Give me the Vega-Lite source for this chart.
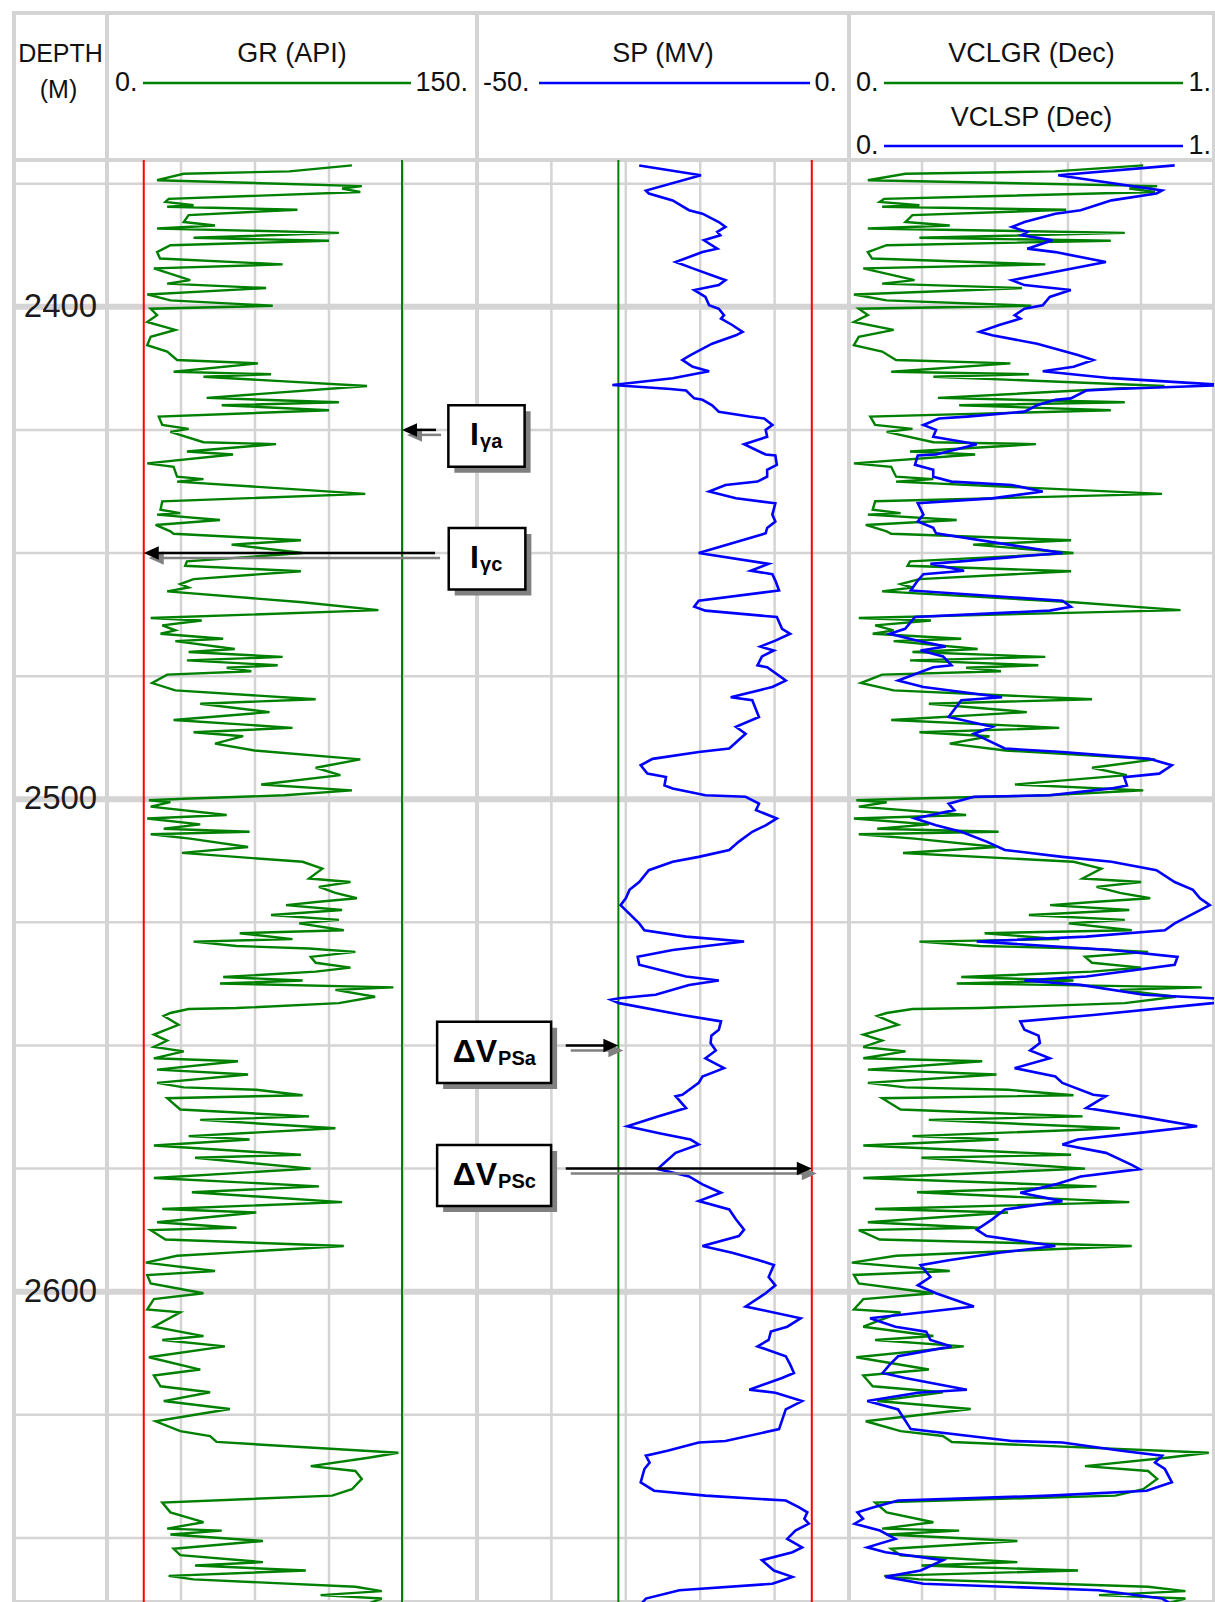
{
  "$schema": "https://vega.github.io/schema/vega-lite/v6.json",
  "background": "white",
  "padding": {"left": 9, "top": 11, "right": 2, "bottom": 0},
  "config": {
    "view": {"stroke": "#d4d4d4", "strokeWidth": 4},
    "concat": {"spacing": 0}
  },
  "datasets": {
    "depth_grid": [
      {"depth": 2375}, {"depth": 2400}, {"depth": 2425}, {"depth": 2450}, {"depth": 2475}, {"depth": 2500},
      {"depth": 2525}, {"depth": 2550}, {"depth": 2575}, {"depth": 2600}, {"depth": 2625}, {"depth": 2650}
    ],
    "track_grid": [
      {"gr": 30, "sp": -40, "vcl": 0.2},
      {"gr": 60, "sp": -30, "vcl": 0.4},
      {"gr": 90, "sp": -20, "vcl": 0.6},
      {"gr": 120, "sp": -10, "vcl": 0.8}
    ],
    "gr_log": [
      {"depth": 2371.3, "gr": 99.3}, {"depth": 2372.5, "gr": 73.9}, {"depth": 2373.0, "gr": 31.1}, {"depth": 2374.3, "gr": 20.3},
      {"depth": 2375.5, "gr": 103.3}, {"depth": 2376.0, "gr": 95.3}, {"depth": 2376.7, "gr": 102.7}, {"depth": 2378.1, "gr": 25.0},
      {"depth": 2378.7, "gr": 23.7}, {"depth": 2379.4, "gr": 35.1}, {"depth": 2379.7, "gr": 24.4}, {"depth": 2380.3, "gr": 77.2},
      {"depth": 2381.4, "gr": 33.1}, {"depth": 2382.8, "gr": 31.1}, {"depth": 2383.5, "gr": 43.8}, {"depth": 2384.1, "gr": 20.3},
      {"depth": 2385.0, "gr": 94.0}, {"depth": 2386.0, "gr": 35.1}, {"depth": 2386.6, "gr": 90.0}, {"depth": 2387.5, "gr": 25.7},
      {"depth": 2388.9, "gr": 20.3}, {"depth": 2390.2, "gr": 21.5}, {"depth": 2391.4, "gr": 71.2}, {"depth": 2392.2, "gr": 19.0},
      {"depth": 2394.6, "gr": 33.7}, {"depth": 2395.3, "gr": 24.4}, {"depth": 2396.2, "gr": 64.5}, {"depth": 2397.5, "gr": 16.3},
      {"depth": 2398.7, "gr": 25.7}, {"depth": 2399.8, "gr": 67.2}, {"depth": 2400.4, "gr": 17.7}, {"depth": 2401.7, "gr": 20.3},
      {"depth": 2403.1, "gr": 16.3}, {"depth": 2404.7, "gr": 27.7}, {"depth": 2406.1, "gr": 17.7}, {"depth": 2407.8, "gr": 16.3},
      {"depth": 2409.1, "gr": 24.4}, {"depth": 2410.8, "gr": 28.4}, {"depth": 2411.5, "gr": 61.2}, {"depth": 2413.2, "gr": 27.0},
      {"depth": 2413.7, "gr": 66.5}, {"depth": 2414.2, "gr": 39.1}, {"depth": 2416.1, "gr": 105.4}, {"depth": 2418.5, "gr": 40.4},
      {"depth": 2419.4, "gr": 94.0}, {"depth": 2420.0, "gr": 46.5}, {"depth": 2421.0, "gr": 90.0}, {"depth": 2422.3, "gr": 21.0},
      {"depth": 2424.0, "gr": 22.4}, {"depth": 2424.8, "gr": 33.1}, {"depth": 2425.4, "gr": 25.7}, {"depth": 2427.5, "gr": 39.1},
      {"depth": 2427.9, "gr": 68.5}, {"depth": 2429.4, "gr": 32.4}, {"depth": 2430.0, "gr": 51.1}, {"depth": 2431.8, "gr": 16.3},
      {"depth": 2432.5, "gr": 27.0}, {"depth": 2434.5, "gr": 28.4}, {"depth": 2435.0, "gr": 39.1}, {"depth": 2435.5, "gr": 28.4},
      {"depth": 2438.0, "gr": 104.7}, {"depth": 2439.5, "gr": 22.4}, {"depth": 2441.2, "gr": 21.7}, {"depth": 2441.9, "gr": 29.7},
      {"depth": 2442.2, "gr": 20.3}, {"depth": 2443.3, "gr": 45.8}, {"depth": 2444.3, "gr": 19.7}, {"depth": 2445.6, "gr": 25.7},
      {"depth": 2446.1, "gr": 27.0}, {"depth": 2447.4, "gr": 78.6}, {"depth": 2448.3, "gr": 50.5}, {"depth": 2450.0, "gr": 79.3},
      {"depth": 2451.7, "gr": 32.4}, {"depth": 2452.6, "gr": 31.7}, {"depth": 2453.7, "gr": 78.6}, {"depth": 2455.3, "gr": 35.1},
      {"depth": 2456.3, "gr": 29.7}, {"depth": 2457.0, "gr": 33.1}, {"depth": 2457.8, "gr": 24.4}, {"depth": 2460.0, "gr": 79.3},
      {"depth": 2461.6, "gr": 110.0}, {"depth": 2463.2, "gr": 17.7}, {"depth": 2463.7, "gr": 38.4}, {"depth": 2464.7, "gr": 22.4},
      {"depth": 2465.7, "gr": 27.7}, {"depth": 2466.4, "gr": 21.7}, {"depth": 2467.4, "gr": 47.1}, {"depth": 2467.9, "gr": 27.7},
      {"depth": 2469.5, "gr": 51.8}, {"depth": 2470.1, "gr": 33.1}, {"depth": 2471.1, "gr": 71.2}, {"depth": 2471.8, "gr": 32.4},
      {"depth": 2472.8, "gr": 69.2}, {"depth": 2473.3, "gr": 48.5}, {"depth": 2474.0, "gr": 58.5}, {"depth": 2474.7, "gr": 24.4},
      {"depth": 2476.4, "gr": 18.3}, {"depth": 2477.9, "gr": 27.7}, {"depth": 2479.7, "gr": 84.6}, {"depth": 2480.6, "gr": 37.8},
      {"depth": 2482.3, "gr": 65.9}, {"depth": 2483.9, "gr": 27.0}, {"depth": 2485.5, "gr": 75.2}, {"depth": 2486.4, "gr": 35.1},
      {"depth": 2487.2, "gr": 55.2}, {"depth": 2488.7, "gr": 43.8}, {"depth": 2490.1, "gr": 59.8}, {"depth": 2491.9, "gr": 102.7},
      {"depth": 2493.6, "gr": 84.6}, {"depth": 2495.1, "gr": 94.6}, {"depth": 2497.0, "gr": 62.5}, {"depth": 2498.2, "gr": 99.3},
      {"depth": 2499.2, "gr": 71.9}, {"depth": 2499.9, "gr": 31.1}, {"depth": 2500.2, "gr": 17.0}, {"depth": 2500.6, "gr": 25.7},
      {"depth": 2501.5, "gr": 17.7}, {"depth": 2503.2, "gr": 48.5}, {"depth": 2503.9, "gr": 16.3}, {"depth": 2505.1, "gr": 37.8},
      {"depth": 2506.0, "gr": 23.0}, {"depth": 2506.6, "gr": 57.8}, {"depth": 2507.1, "gr": 17.7}, {"depth": 2508.0, "gr": 33.7},
      {"depth": 2509.7, "gr": 57.2}, {"depth": 2510.9, "gr": 30.4}, {"depth": 2512.7, "gr": 79.3}, {"depth": 2514.1, "gr": 87.3},
      {"depth": 2516.1, "gr": 81.9}, {"depth": 2516.8, "gr": 98.7}, {"depth": 2517.8, "gr": 85.9}, {"depth": 2519.0, "gr": 92.6},
      {"depth": 2520.1, "gr": 101.3}, {"depth": 2520.8, "gr": 85.9}, {"depth": 2521.5, "gr": 72.6}, {"depth": 2522.5, "gr": 95.3},
      {"depth": 2523.5, "gr": 66.5}, {"depth": 2524.5, "gr": 94.0}, {"depth": 2525.2, "gr": 77.9}, {"depth": 2526.6, "gr": 96.0},
      {"depth": 2527.2, "gr": 53.8}, {"depth": 2528.4, "gr": 75.2}, {"depth": 2528.9, "gr": 35.1}, {"depth": 2529.8, "gr": 52.5},
      {"depth": 2530.3, "gr": 81.9}, {"depth": 2531.0, "gr": 100.7}, {"depth": 2532.0, "gr": 82.6}, {"depth": 2533.2, "gr": 84.6},
      {"depth": 2534.2, "gr": 98.7}, {"depth": 2535.0, "gr": 84.6}, {"depth": 2536.1, "gr": 47.1}, {"depth": 2536.8, "gr": 79.3},
      {"depth": 2537.4, "gr": 45.8}, {"depth": 2538.2, "gr": 116.1}, {"depth": 2538.7, "gr": 92.6}, {"depth": 2540.1, "gr": 108.7},
      {"depth": 2541.4, "gr": 94.0}, {"depth": 2542.4, "gr": 52.5}, {"depth": 2542.6, "gr": 33.1}, {"depth": 2543.4, "gr": 25.7},
      {"depth": 2544.0, "gr": 23.0}, {"depth": 2545.8, "gr": 29.0}, {"depth": 2547.8, "gr": 19.0}, {"depth": 2549.0, "gr": 24.4},
      {"depth": 2550.3, "gr": 19.0}, {"depth": 2551.2, "gr": 31.1}, {"depth": 2552.6, "gr": 19.0}, {"depth": 2553.2, "gr": 53.1},
      {"depth": 2554.9, "gr": 20.3}, {"depth": 2555.9, "gr": 57.2}, {"depth": 2557.6, "gr": 20.3}, {"depth": 2558.5, "gr": 31.1},
      {"depth": 2559.0, "gr": 60.5}, {"depth": 2560.1, "gr": 79.3}, {"depth": 2560.7, "gr": 24.4}, {"depth": 2563.0, "gr": 29.7},
      {"depth": 2564.4, "gr": 81.9}, {"depth": 2565.1, "gr": 37.8}, {"depth": 2566.8, "gr": 92.6}, {"depth": 2568.4, "gr": 33.1},
      {"depth": 2569.1, "gr": 57.8}, {"depth": 2570.3, "gr": 19.0}, {"depth": 2572.2, "gr": 78.6}, {"depth": 2572.8, "gr": 35.7},
      {"depth": 2575.0, "gr": 82.6}, {"depth": 2576.9, "gr": 19.0}, {"depth": 2578.6, "gr": 85.9}, {"depth": 2579.8, "gr": 34.4},
      {"depth": 2581.8, "gr": 95.3}, {"depth": 2583.2, "gr": 22.4}, {"depth": 2583.9, "gr": 60.5}, {"depth": 2585.9, "gr": 20.3},
      {"depth": 2587.0, "gr": 52.5}, {"depth": 2587.5, "gr": 17.7}, {"depth": 2589.4, "gr": 23.7}, {"depth": 2590.7, "gr": 96.0},
      {"depth": 2592.7, "gr": 28.4}, {"depth": 2594.1, "gr": 15.7}, {"depth": 2595.8, "gr": 43.8}, {"depth": 2596.6, "gr": 16.3},
      {"depth": 2598.3, "gr": 17.7}, {"depth": 2600.3, "gr": 39.1}, {"depth": 2601.5, "gr": 19.0}, {"depth": 2603.6, "gr": 16.3},
      {"depth": 2604.2, "gr": 29.7}, {"depth": 2607.1, "gr": 19.0}, {"depth": 2609.0, "gr": 39.1}, {"depth": 2609.8, "gr": 22.4},
      {"depth": 2611.1, "gr": 47.8}, {"depth": 2613.3, "gr": 17.0}, {"depth": 2615.8, "gr": 37.8}, {"depth": 2617.0, "gr": 19.0},
      {"depth": 2619.2, "gr": 21.7}, {"depth": 2620.4, "gr": 41.8}, {"depth": 2622.2, "gr": 23.0}, {"depth": 2623.8, "gr": 49.8},
      {"depth": 2626.3, "gr": 19.7}, {"depth": 2628.3, "gr": 29.7}, {"depth": 2629.3, "gr": 41.8}, {"depth": 2630.5, "gr": 44.4},
      {"depth": 2632.7, "gr": 118.1}, {"depth": 2633.7, "gr": 106.0}, {"depth": 2635.4, "gr": 82.6}, {"depth": 2636.4, "gr": 100.7},
      {"depth": 2638.0, "gr": 103.3}, {"depth": 2640.1, "gr": 99.3}, {"depth": 2641.4, "gr": 91.3}, {"depth": 2642.8, "gr": 22.4},
      {"depth": 2644.8, "gr": 25.7}, {"depth": 2646.8, "gr": 39.1}, {"depth": 2648.1, "gr": 24.4}, {"depth": 2648.5, "gr": 46.5},
      {"depth": 2649.3, "gr": 25.7}, {"depth": 2650.6, "gr": 63.2}, {"depth": 2652.2, "gr": 27.0}, {"depth": 2653.5, "gr": 29.7},
      {"depth": 2654.9, "gr": 63.2}, {"depth": 2655.6, "gr": 35.7}, {"depth": 2656.6, "gr": 80.6}, {"depth": 2657.7, "gr": 25.0},
      {"depth": 2658.4, "gr": 35.1}, {"depth": 2659.9, "gr": 100.7}, {"depth": 2660.8, "gr": 111.4}, {"depth": 2661.6, "gr": 86.6},
      {"depth": 2662.3, "gr": 111.4}, {"depth": 2663.5, "gr": 105.0}
    ],
    "sp_log": [
      {"depth": 2371.3, "sp": -28.2}, {"depth": 2373.3, "sp": -19.9}, {"depth": 2376.4, "sp": -27.3}, {"depth": 2377.0, "sp": -26.9},
      {"depth": 2378.4, "sp": -23.7}, {"depth": 2380.4, "sp": -21.5}, {"depth": 2381.1, "sp": -19.7}, {"depth": 2382.8, "sp": -17.5},
      {"depth": 2383.8, "sp": -16.6}, {"depth": 2384.8, "sp": -17.7}, {"depth": 2385.5, "sp": -17.3}, {"depth": 2386.5, "sp": -19.5},
      {"depth": 2388.2, "sp": -17.7}, {"depth": 2388.9, "sp": -19.7}, {"depth": 2390.9, "sp": -23.3}, {"depth": 2392.2, "sp": -21.0},
      {"depth": 2394.6, "sp": -16.6}, {"depth": 2395.6, "sp": -17.5}, {"depth": 2396.6, "sp": -20.8}, {"depth": 2398.0, "sp": -19.3},
      {"depth": 2399.7, "sp": -18.8}, {"depth": 2400.4, "sp": -17.5}, {"depth": 2401.7, "sp": -16.8}, {"depth": 2402.4, "sp": -17.2},
      {"depth": 2403.7, "sp": -15.7}, {"depth": 2405.1, "sp": -14.3}, {"depth": 2405.8, "sp": -15.2}, {"depth": 2407.5, "sp": -18.4},
      {"depth": 2409.8, "sp": -21.3}, {"depth": 2410.8, "sp": -22.4}, {"depth": 2412.2, "sp": -21.0}, {"depth": 2413.1, "sp": -18.8},
      {"depth": 2414.5, "sp": -23.7}, {"depth": 2415.9, "sp": -31.8}, {"depth": 2416.7, "sp": -24.0}, {"depth": 2417.0, "sp": -21.9},
      {"depth": 2418.6, "sp": -20.8}, {"depth": 2418.9, "sp": -19.7}, {"depth": 2420.0, "sp": -18.4}, {"depth": 2421.3, "sp": -17.5},
      {"depth": 2422.3, "sp": -13.4}, {"depth": 2422.7, "sp": -11.4}, {"depth": 2424.0, "sp": -10.3}, {"depth": 2425.0, "sp": -11.2},
      {"depth": 2426.4, "sp": -11.0}, {"depth": 2427.9, "sp": -14.1}, {"depth": 2430.0, "sp": -11.2}, {"depth": 2430.2, "sp": -9.9},
      {"depth": 2432.1, "sp": -9.7}, {"depth": 2433.1, "sp": -11.0}, {"depth": 2434.5, "sp": -11.0}, {"depth": 2435.5, "sp": -12.3},
      {"depth": 2436.2, "sp": -16.6}, {"depth": 2437.5, "sp": -18.8}, {"depth": 2438.9, "sp": -15.2}, {"depth": 2439.9, "sp": -9.9},
      {"depth": 2442.2, "sp": -10.3}, {"depth": 2443.6, "sp": -9.9}, {"depth": 2444.9, "sp": -11.0}, {"depth": 2446.0, "sp": -11.2},
      {"depth": 2450.0, "sp": -20.2}, {"depth": 2452.2, "sp": -10.8}, {"depth": 2453.6, "sp": -13.2}, {"depth": 2454.3, "sp": -10.3},
      {"depth": 2455.6, "sp": -9.9}, {"depth": 2457.6, "sp": -9.4}, {"depth": 2459.7, "sp": -20.2}, {"depth": 2460.9, "sp": -20.8},
      {"depth": 2461.7, "sp": -19.3}, {"depth": 2463.0, "sp": -9.7}, {"depth": 2465.4, "sp": -9.0}, {"depth": 2466.4, "sp": -7.9},
      {"depth": 2467.8, "sp": -9.9}, {"depth": 2469.0, "sp": -11.9}, {"depth": 2469.8, "sp": -10.1}, {"depth": 2471.0, "sp": -11.7},
      {"depth": 2472.8, "sp": -12.3}, {"depth": 2473.2, "sp": -11.0}, {"depth": 2475.9, "sp": -8.5}, {"depth": 2477.2, "sp": -10.3},
      {"depth": 2479.3, "sp": -15.9}, {"depth": 2479.9, "sp": -13.0}, {"depth": 2483.3, "sp": -12.1}, {"depth": 2485.3, "sp": -15.2},
      {"depth": 2486.7, "sp": -13.9}, {"depth": 2489.7, "sp": -16.1}, {"depth": 2490.4, "sp": -20.2}, {"depth": 2491.8, "sp": -26.4},
      {"depth": 2493.1, "sp": -28.0}, {"depth": 2494.8, "sp": -27.1}, {"depth": 2495.5, "sp": -24.6}, {"depth": 2497.2, "sp": -24.8},
      {"depth": 2497.8, "sp": -23.7}, {"depth": 2499.2, "sp": -19.3}, {"depth": 2499.5, "sp": -13.9}, {"depth": 2500.9, "sp": -12.1},
      {"depth": 2502.2, "sp": -12.5}, {"depth": 2503.9, "sp": -9.7}, {"depth": 2505.3, "sp": -11.2}, {"depth": 2506.6, "sp": -13.0},
      {"depth": 2508.6, "sp": -14.8}, {"depth": 2510.3, "sp": -16.1}, {"depth": 2511.7, "sp": -20.2}, {"depth": 2512.7, "sp": -23.7},
      {"depth": 2514.4, "sp": -26.9}, {"depth": 2516.8, "sp": -28.2}, {"depth": 2518.4, "sp": -29.5}, {"depth": 2520.1, "sp": -30.0},
      {"depth": 2521.5, "sp": -30.7}, {"depth": 2525.2, "sp": -28.2}, {"depth": 2526.6, "sp": -27.5}, {"depth": 2527.9, "sp": -21.9},
      {"depth": 2528.9, "sp": -14.1}, {"depth": 2530.6, "sp": -23.7}, {"depth": 2532.0, "sp": -28.4}, {"depth": 2533.6, "sp": -28.2},
      {"depth": 2536.0, "sp": -21.9}, {"depth": 2536.4, "sp": -19.7}, {"depth": 2536.8, "sp": -17.5}, {"depth": 2537.7, "sp": -21.5},
      {"depth": 2539.7, "sp": -26.0}, {"depth": 2540.4, "sp": -30.9}, {"depth": 2540.7, "sp": -32.0}, {"depth": 2541.4, "sp": -30.9},
      {"depth": 2543.8, "sp": -22.4}, {"depth": 2545.1, "sp": -17.2}, {"depth": 2546.8, "sp": -17.5}, {"depth": 2548.0, "sp": -18.5},
      {"depth": 2549.5, "sp": -18.6}, {"depth": 2551.0, "sp": -17.9}, {"depth": 2552.6, "sp": -19.3}, {"depth": 2554.6, "sp": -16.8},
      {"depth": 2556.3, "sp": -19.7}, {"depth": 2557.6, "sp": -20.2}, {"depth": 2560.0, "sp": -22.4}, {"depth": 2560.3, "sp": -23.3},
      {"depth": 2562.7, "sp": -21.9}, {"depth": 2564.4, "sp": -25.7}, {"depth": 2566.4, "sp": -29.8}, {"depth": 2567.8, "sp": -25.5},
      {"depth": 2569.1, "sp": -21.3}, {"depth": 2570.1, "sp": -20.2}, {"depth": 2571.8, "sp": -23.3}, {"depth": 2574.2, "sp": -25.1},
      {"depth": 2575.1, "sp": -25.7}, {"depth": 2576.6, "sp": -21.5}, {"depth": 2578.2, "sp": -19.7}, {"depth": 2579.9, "sp": -17.2},
      {"depth": 2581.6, "sp": -20.2}, {"depth": 2583.3, "sp": -16.1}, {"depth": 2585.3, "sp": -15.2}, {"depth": 2587.4, "sp": -14.1},
      {"depth": 2588.7, "sp": -14.8}, {"depth": 2590.7, "sp": -19.7}, {"depth": 2592.1, "sp": -15.7}, {"depth": 2593.6, "sp": -12.1},
      {"depth": 2594.6, "sp": -10.1}, {"depth": 2597.0, "sp": -10.8}, {"depth": 2598.7, "sp": -9.9}, {"depth": 2600.3, "sp": -11.2},
      {"depth": 2603.0, "sp": -13.9}, {"depth": 2603.7, "sp": -11.7}, {"depth": 2605.4, "sp": -6.5}, {"depth": 2607.1, "sp": -8.3},
      {"depth": 2608.1, "sp": -10.5}, {"depth": 2609.8, "sp": -10.8}, {"depth": 2611.1, "sp": -12.3}, {"depth": 2613.1, "sp": -8.5},
      {"depth": 2614.8, "sp": -7.9}, {"depth": 2616.5, "sp": -7.4}, {"depth": 2617.5, "sp": -9.0}, {"depth": 2619.9, "sp": -13.4},
      {"depth": 2620.5, "sp": -9.9}, {"depth": 2622.2, "sp": -6.3}, {"depth": 2623.9, "sp": -8.5}, {"depth": 2627.9, "sp": -9.4},
      {"depth": 2630.3, "sp": -16.6}, {"depth": 2630.6, "sp": -20.2}, {"depth": 2632.3, "sp": -24.4}, {"depth": 2633.3, "sp": -27.3},
      {"depth": 2634.7, "sp": -26.8}, {"depth": 2636.0, "sp": -27.5}, {"depth": 2638.7, "sp": -28.0}, {"depth": 2640.4, "sp": -26.2},
      {"depth": 2641.4, "sp": -19.3}, {"depth": 2642.4, "sp": -8.5}, {"depth": 2643.8, "sp": -6.7}, {"depth": 2644.8, "sp": -5.6},
      {"depth": 2646.1, "sp": -6.0}, {"depth": 2647.1, "sp": -5.4}, {"depth": 2648.5, "sp": -7.2}, {"depth": 2650.2, "sp": -8.3},
      {"depth": 2651.9, "sp": -6.3}, {"depth": 2652.9, "sp": -7.6}, {"depth": 2654.5, "sp": -11.7}, {"depth": 2656.6, "sp": -10.1},
      {"depth": 2657.9, "sp": -7.6}, {"depth": 2659.3, "sp": -10.3}, {"depth": 2660.6, "sp": -22.8}, {"depth": 2662.3, "sp": -27.3},
      {"depth": 2663.5, "sp": -28.0}
    ],
    "gr_arrows": [
      {"label": "Iya", "from": 133.4, "to": 119.6, "depth": 2425},
      {"label": "Iyc", "from": 133.0, "to": 14.9, "depth": 2450}
    ],
    "sp_arrows": [
      {"label": "dVPSa", "from": -38.07, "to": -31.0, "depth": 2550},
      {"label": "dVPSc", "from": -38.07, "to": -5.0, "depth": 2575}
    ],
    "boxes": [
      {"main": "I", "sub": "γa", "left": -53.85, "right": -43.6, "top": 2420.0, "bottom": 2432.5, "join": -49.73, "base": 2428.1},
      {"main": "I", "sub": "γc", "left": -53.8, "right": -43.5, "top": 2444.9, "bottom": 2457.4, "join": -49.73, "base": 2453.1},
      {"main": "ΔV", "sub": "PSa", "left": -55.36, "right": -40.04, "top": 2545.2, "bottom": 2557.6, "join": -47.3, "base": 2553.3},
      {"main": "ΔV", "sub": "PSc", "left": -55.36, "right": -40.04, "top": 2570.2, "bottom": 2582.6, "join": -47.3, "base": 2578.4}
    ]
  },
  "columns": 4,
  "spacing": 0,
  "bounds": "flush",
  "resolve": {"scale": {"x": "independent", "y": "independent"}},
  "concat": [
    {
      "width": 93,
      "height": 147,
      "data": {"values": [{}]},
      "layer": [
        {"mark": {"type": "text", "text": "DEPTH", "font": "Liberation Sans", "fontSize": 25, "color": "#111111", "align": "center", "baseline": "alphabetic", "y": 49},
         "encoding": {"x": {"datum": 0.5, "type": "quantitative", "scale": {"domain": [0, 1], "nice": false, "zero": false}, "axis": null}}},
        {"mark": {"type": "text", "text": "(M)", "font": "Liberation Sans", "fontSize": 25, "color": "#111111", "align": "center", "baseline": "alphabetic", "y": 85, "dx": -2},
         "encoding": {"x": {"datum": 0.5, "type": "quantitative", "scale": {"domain": [0, 1], "nice": false, "zero": false}, "axis": null}}}
      ]
    },
    {
      "width": 370,
      "height": 147,
      "data": {"values": [{}]},
      "layer": [
        {"mark": {"type": "text", "text": "GR (API)", "font": "Liberation Sans", "fontSize": 27, "color": "#111111", "align": "center", "baseline": "alphabetic", "y": 49},
         "encoding": {"x": {"datum": 75, "type": "quantitative", "scale": {"domain": [0, 150], "nice": false, "zero": false}, "axis": null}}},
        {"mark": {"type": "text", "text": "0.", "font": "Liberation Sans", "fontSize": 27, "color": "#111111", "align": "left", "baseline": "alphabetic", "y": 78, "dx": 8},
         "encoding": {"x": {"datum": 0, "type": "quantitative", "scale": {"domain": [0, 150], "nice": false, "zero": false}, "axis": null}}},
        {"mark": {"type": "text", "text": "150.", "font": "Liberation Sans", "fontSize": 27, "color": "#111111", "align": "right", "baseline": "alphabetic", "y": 78, "dx": -9},
         "encoding": {"x": {"datum": 150, "type": "quantitative", "scale": {"domain": [0, 150], "nice": false, "zero": false}, "axis": null}}},
        {"mark": {"type": "rule", "color": "#008000", "strokeWidth": 2.3, "xOffset": 36, "x2Offset": -66},
         "encoding": {"x": {"datum": 0, "type": "quantitative", "scale": {"domain": [0, 150], "nice": false, "zero": false}, "axis": null}, "x2": {"datum": 150}, "y": {"value": 70}}}
      ]
    },
    {
      "width": 372,
      "height": 147,
      "data": {"values": [{}]},
      "layer": [
        {"mark": {"type": "text", "text": "SP (MV)", "font": "Liberation Sans", "fontSize": 27, "color": "#111111", "align": "center", "baseline": "alphabetic", "y": 49},
         "encoding": {"x": {"datum": -25, "type": "quantitative", "scale": {"domain": [-50, 0], "nice": false, "zero": false}, "axis": null}}},
        {"mark": {"type": "text", "text": "-50.", "font": "Liberation Sans", "fontSize": 27, "color": "#111111", "align": "left", "baseline": "alphabetic", "y": 78, "dx": 6},
         "encoding": {"x": {"datum": -50, "type": "quantitative", "scale": {"domain": [-50, 0], "nice": false, "zero": false}, "axis": null}}},
        {"mark": {"type": "text", "text": "0.", "font": "Liberation Sans", "fontSize": 27, "color": "#111111", "align": "right", "baseline": "alphabetic", "y": 78, "dx": -12},
         "encoding": {"x": {"datum": 0, "type": "quantitative", "scale": {"domain": [-50, 0], "nice": false, "zero": false}, "axis": null}}},
        {"mark": {"type": "rule", "color": "#0000ff", "strokeWidth": 2.3, "xOffset": 62, "x2Offset": -39},
         "encoding": {"x": {"datum": -50, "type": "quantitative", "scale": {"domain": [-50, 0], "nice": false, "zero": false}, "axis": null}, "x2": {"datum": 0}, "y": {"value": 70}}}
      ]
    },
    {
      "width": 365,
      "height": 147,
      "data": {"values": [{}]},
      "layer": [
        {"mark": {"type": "text", "text": "VCLGR (Dec)", "font": "Liberation Sans", "fontSize": 27, "color": "#111111", "align": "center", "baseline": "alphabetic", "y": 49},
         "encoding": {"x": {"datum": 0.5, "type": "quantitative", "scale": {"domain": [0, 1], "nice": false, "zero": false}, "axis": null}}},
        {"mark": {"type": "text", "text": "0.", "font": "Liberation Sans", "fontSize": 27, "color": "#111111", "align": "left", "baseline": "alphabetic", "y": 78, "dx": 7},
         "encoding": {"x": {"datum": 0, "type": "quantitative", "scale": {"domain": [0, 1], "nice": false, "zero": false}, "axis": null}}},
        {"mark": {"type": "text", "text": "1.", "font": "Liberation Sans", "fontSize": 27, "color": "#111111", "align": "right", "baseline": "alphabetic", "y": 78, "dx": -3},
         "encoding": {"x": {"datum": 1, "type": "quantitative", "scale": {"domain": [0, 1], "nice": false, "zero": false}, "axis": null}}},
        {"mark": {"type": "rule", "color": "#008000", "strokeWidth": 2.3, "xOffset": 35, "x2Offset": -31},
         "encoding": {"x": {"datum": 0, "type": "quantitative", "scale": {"domain": [0, 1], "nice": false, "zero": false}, "axis": null}, "x2": {"datum": 1}, "y": {"value": 70}}},
        {"mark": {"type": "text", "text": "VCLSP (Dec)", "font": "Liberation Sans", "fontSize": 27, "color": "#111111", "align": "center", "baseline": "alphabetic", "y": 113},
         "encoding": {"x": {"datum": 0.5, "type": "quantitative", "scale": {"domain": [0, 1], "nice": false, "zero": false}, "axis": null}}},
        {"mark": {"type": "text", "text": "0.", "font": "Liberation Sans", "fontSize": 27, "color": "#111111", "align": "left", "baseline": "alphabetic", "y": 141, "dx": 7},
         "encoding": {"x": {"datum": 0, "type": "quantitative", "scale": {"domain": [0, 1], "nice": false, "zero": false}, "axis": null}}},
        {"mark": {"type": "text", "text": "1.", "font": "Liberation Sans", "fontSize": 27, "color": "#111111", "align": "right", "baseline": "alphabetic", "y": 141, "dx": -3},
         "encoding": {"x": {"datum": 1, "type": "quantitative", "scale": {"domain": [0, 1], "nice": false, "zero": false}, "axis": null}}},
        {"mark": {"type": "rule", "color": "#0000ff", "strokeWidth": 2.3, "xOffset": 35, "x2Offset": -31},
         "encoding": {"x": {"datum": 0, "type": "quantitative", "scale": {"domain": [0, 1], "nice": false, "zero": false}, "axis": null}, "x2": {"datum": 1}, "y": {"value": 133}}}
      ]
    },
    {
      "width": 93,
      "height": 1442,
      "layer": [
        {"data": {"name": "depth_grid"}, "transform": [{"filter": "datum.depth % 100 != 0"}],
         "mark": {"type": "rule", "color": "#d4d4d4", "strokeWidth": 2.5},
         "encoding": {"y": {"field": "depth", "type": "quantitative", "scale": {"domain": [2370.2, 2663.0], "reverse": true, "nice": false, "zero": false}, "axis": null}}},
        {"data": {"name": "depth_grid"}, "transform": [{"filter": "datum.depth % 100 == 0"}],
         "mark": {"type": "rule", "color": "#d4d4d4", "strokeWidth": 6},
         "encoding": {"y": {"field": "depth", "type": "quantitative", "scale": {"domain": [2370.2, 2663.0], "reverse": true, "nice": false, "zero": false}, "axis": null}}},
        {"data": {"name": "depth_grid"}, "transform": [{"filter": "datum.depth % 100 == 0"}],
         "mark": {"type": "text", "font": "Liberation Sans", "fontSize": 33, "color": "#1a1a1a", "align": "center", "baseline": "middle"},
         "encoding": {"x": {"datum": 0.5, "type": "quantitative", "scale": {"domain": [0, 1], "nice": false, "zero": false}, "axis": null},
                      "y": {"field": "depth", "type": "quantitative", "scale": {"domain": [2370.2, 2663.0], "reverse": true, "nice": false, "zero": false}, "axis": null},
                      "text": {"field": "depth", "type": "quantitative", "format": "d"}}}
      ]
    },
    {
      "width": 370,
      "height": 1442,
      "layer": [
        {"data": {"name": "depth_grid"}, "transform": [{"filter": "datum.depth % 100 != 0"}],
         "mark": {"type": "rule", "color": "#d4d4d4", "strokeWidth": 2.5},
         "encoding": {"y": {"field": "depth", "type": "quantitative", "scale": {"domain": [2370.2, 2663.0], "reverse": true, "nice": false, "zero": false}, "axis": null}}},
        {"data": {"name": "depth_grid"}, "transform": [{"filter": "datum.depth % 100 == 0"}],
         "mark": {"type": "rule", "color": "#d4d4d4", "strokeWidth": 6},
         "encoding": {"y": {"field": "depth", "type": "quantitative", "scale": {"domain": [2370.2, 2663.0], "reverse": true, "nice": false, "zero": false}, "axis": null}}},
        {"data": {"name": "track_grid"},
         "mark": {"type": "rule", "color": "#d4d4d4", "strokeWidth": 2.5},
         "encoding": {"x": {"field": "gr", "type": "quantitative", "scale": {"domain": [0, 150], "nice": false, "zero": false}, "axis": null}}},
        {"data": {"values": [{}]},
         "mark": {"type": "rule", "color": "#ff0000", "strokeWidth": 2},
         "encoding": {"x": {"datum": 14.9, "type": "quantitative", "scale": {"domain": [0, 150], "nice": false, "zero": false}, "axis": null}}},
        {"data": {"values": [{}]},
         "mark": {"type": "rule", "color": "#008000", "strokeWidth": 2},
         "encoding": {"x": {"datum": 119.6, "type": "quantitative", "scale": {"domain": [0, 150], "nice": false, "zero": false}, "axis": null}}},
        {"data": {"name": "gr_log"},
         "mark": {"type": "line", "color": "#008000", "strokeWidth": 2.4, "clip": true},
         "encoding": {"x": {"field": "gr", "type": "quantitative", "scale": {"domain": [0, 150], "nice": false, "zero": false}, "axis": null},
                      "y": {"field": "depth", "type": "quantitative", "scale": {"domain": [2370.2, 2663.0], "reverse": true, "nice": false, "zero": false}, "axis": null},
                      "order": {"field": "depth", "type": "quantitative"}}},
        {"data": {"name": "gr_arrows"},
         "mark": {"type": "rule", "color": "#808080", "strokeWidth": 2.5, "xOffset": 5, "x2Offset": 13, "yOffset": 5},
         "encoding": {"x": {"field": "from", "type": "quantitative", "scale": {"domain": [0, 150], "nice": false, "zero": false}, "axis": null}, "x2": {"field": "to"},
                      "y": {"field": "depth", "type": "quantitative", "scale": {"domain": [2370.2, 2663.0], "reverse": true, "nice": false, "zero": false}, "axis": null}}},
        {"data": {"name": "gr_arrows"},
         "mark": {"type": "point", "shape": "M0,0L2,-0.9L2,0.9Z", "filled": true, "size": 225, "color": "#808080", "opacity": 1, "xOffset": 5, "yOffset": 5},
         "encoding": {"x": {"field": "to", "type": "quantitative", "scale": {"domain": [0, 150], "nice": false, "zero": false}, "axis": null},
                      "y": {"field": "depth", "type": "quantitative", "scale": {"domain": [2370.2, 2663.0], "reverse": true, "nice": false, "zero": false}, "axis": null}}},
        {"data": {"name": "gr_arrows"},
         "mark": {"type": "rule", "color": "#000000", "strokeWidth": 2.5, "x2Offset": 8},
         "encoding": {"x": {"field": "from", "type": "quantitative", "scale": {"domain": [0, 150], "nice": false, "zero": false}, "axis": null}, "x2": {"field": "to"},
                      "y": {"field": "depth", "type": "quantitative", "scale": {"domain": [2370.2, 2663.0], "reverse": true, "nice": false, "zero": false}, "axis": null}}},
        {"data": {"name": "gr_arrows"},
         "mark": {"type": "point", "shape": "M0,0L2,-0.9L2,0.9Z", "filled": true, "size": 225, "color": "#000000", "opacity": 1},
         "encoding": {"x": {"field": "to", "type": "quantitative", "scale": {"domain": [0, 150], "nice": false, "zero": false}, "axis": null},
                      "y": {"field": "depth", "type": "quantitative", "scale": {"domain": [2370.2, 2663.0], "reverse": true, "nice": false, "zero": false}, "axis": null}}}
      ]
    },
    {
      "width": 372,
      "height": 1442,
      "layer": [
        {"data": {"name": "depth_grid"}, "transform": [{"filter": "datum.depth % 100 != 0"}],
         "mark": {"type": "rule", "color": "#d4d4d4", "strokeWidth": 2.5},
         "encoding": {"y": {"field": "depth", "type": "quantitative", "scale": {"domain": [2370.2, 2663.0], "reverse": true, "nice": false, "zero": false}, "axis": null}}},
        {"data": {"name": "depth_grid"}, "transform": [{"filter": "datum.depth % 100 == 0"}],
         "mark": {"type": "rule", "color": "#d4d4d4", "strokeWidth": 6},
         "encoding": {"y": {"field": "depth", "type": "quantitative", "scale": {"domain": [2370.2, 2663.0], "reverse": true, "nice": false, "zero": false}, "axis": null}}},
        {"data": {"name": "track_grid"},
         "mark": {"type": "rule", "color": "#d4d4d4", "strokeWidth": 2.5},
         "encoding": {"x": {"field": "sp", "type": "quantitative", "scale": {"domain": [-50, 0], "nice": false, "zero": false}, "axis": null}}},
        {"data": {"values": [{}]},
         "mark": {"type": "rule", "color": "#008000", "strokeWidth": 2},
         "encoding": {"x": {"datum": -31.0, "type": "quantitative", "scale": {"domain": [-50, 0], "nice": false, "zero": false}, "axis": null}}},
        {"data": {"values": [{}]},
         "mark": {"type": "rule", "color": "#ff0000", "strokeWidth": 2},
         "encoding": {"x": {"datum": -5.0, "type": "quantitative", "scale": {"domain": [-50, 0], "nice": false, "zero": false}, "axis": null}}},
        {"data": {"name": "sp_log"},
         "mark": {"type": "line", "color": "#0000ff", "strokeWidth": 2.6, "clip": true},
         "encoding": {"x": {"field": "sp", "type": "quantitative", "scale": {"domain": [-50, 0], "nice": false, "zero": false}, "axis": null},
                      "y": {"field": "depth", "type": "quantitative", "scale": {"domain": [2370.2, 2663.0], "reverse": true, "nice": false, "zero": false}, "axis": null},
                      "order": {"field": "depth", "type": "quantitative"}}},
        {"data": {"name": "boxes"},
         "mark": {"type": "rect", "color": "#808080", "opacity": 1, "xOffset": 6, "x2Offset": 6, "yOffset": 6, "y2Offset": 6},
         "encoding": {"x": {"field": "left", "type": "quantitative", "scale": {"domain": [-50, 0], "nice": false, "zero": false}, "axis": null}, "x2": {"field": "right"},
                      "y": {"field": "top", "type": "quantitative", "scale": {"domain": [2370.2, 2663.0], "reverse": true, "nice": false, "zero": false}, "axis": null}, "y2": {"field": "bottom"}}},
        {"data": {"name": "boxes"},
         "mark": {"type": "rect", "fill": "#ffffff", "stroke": "#000000", "strokeWidth": 2.5, "opacity": 1},
         "encoding": {"x": {"field": "left", "type": "quantitative", "scale": {"domain": [-50, 0], "nice": false, "zero": false}, "axis": null}, "x2": {"field": "right"},
                      "y": {"field": "top", "type": "quantitative", "scale": {"domain": [2370.2, 2663.0], "reverse": true, "nice": false, "zero": false}, "axis": null}, "y2": {"field": "bottom"}}},
        {"data": {"name": "boxes"},
         "mark": {"type": "text", "font": "Liberation Sans", "fontWeight": "bold", "fontSize": 32, "color": "#000000", "align": "right", "baseline": "alphabetic"},
         "encoding": {"x": {"field": "join", "type": "quantitative", "scale": {"domain": [-50, 0], "nice": false, "zero": false}, "axis": null},
                      "y": {"field": "base", "type": "quantitative", "scale": {"domain": [2370.2, 2663.0], "reverse": true, "nice": false, "zero": false}, "axis": null},
                      "text": {"field": "main"}}},
        {"data": {"name": "boxes"},
         "mark": {"type": "text", "font": "Liberation Sans", "fontWeight": "bold", "fontSize": 20, "color": "#000000", "align": "left", "baseline": "alphabetic", "dx": 1, "dy": 3},
         "encoding": {"x": {"field": "join", "type": "quantitative", "scale": {"domain": [-50, 0], "nice": false, "zero": false}, "axis": null},
                      "y": {"field": "base", "type": "quantitative", "scale": {"domain": [2370.2, 2663.0], "reverse": true, "nice": false, "zero": false}, "axis": null},
                      "text": {"field": "sub"}}},
        {"data": {"name": "sp_arrows"},
         "mark": {"type": "rule", "color": "#808080", "strokeWidth": 2.5, "xOffset": 5, "x2Offset": -3, "yOffset": 5},
         "encoding": {"x": {"field": "from", "type": "quantitative", "scale": {"domain": [-50, 0], "nice": false, "zero": false}, "axis": null}, "x2": {"field": "to"},
                      "y": {"field": "depth", "type": "quantitative", "scale": {"domain": [2370.2, 2663.0], "reverse": true, "nice": false, "zero": false}, "axis": null}}},
        {"data": {"name": "sp_arrows"},
         "mark": {"type": "point", "shape": "M0,0L-2,-0.9L-2,0.9Z", "filled": true, "size": 225, "color": "#808080", "opacity": 1, "xOffset": 5, "yOffset": 5},
         "encoding": {"x": {"field": "to", "type": "quantitative", "scale": {"domain": [-50, 0], "nice": false, "zero": false}, "axis": null},
                      "y": {"field": "depth", "type": "quantitative", "scale": {"domain": [2370.2, 2663.0], "reverse": true, "nice": false, "zero": false}, "axis": null}}},
        {"data": {"name": "sp_arrows"},
         "mark": {"type": "rule", "color": "#000000", "strokeWidth": 2.5, "x2Offset": -8},
         "encoding": {"x": {"field": "from", "type": "quantitative", "scale": {"domain": [-50, 0], "nice": false, "zero": false}, "axis": null}, "x2": {"field": "to"},
                      "y": {"field": "depth", "type": "quantitative", "scale": {"domain": [2370.2, 2663.0], "reverse": true, "nice": false, "zero": false}, "axis": null}}},
        {"data": {"name": "sp_arrows"},
         "mark": {"type": "point", "shape": "M0,0L-2,-0.9L-2,0.9Z", "filled": true, "size": 225, "color": "#000000", "opacity": 1},
         "encoding": {"x": {"field": "to", "type": "quantitative", "scale": {"domain": [-50, 0], "nice": false, "zero": false}, "axis": null},
                      "y": {"field": "depth", "type": "quantitative", "scale": {"domain": [2370.2, 2663.0], "reverse": true, "nice": false, "zero": false}, "axis": null}}}
      ]
    },
    {
      "width": 365,
      "height": 1442,
      "resolve": {"scale": {"x": "independent"}},
      "layer": [
        {"data": {"name": "depth_grid"}, "transform": [{"filter": "datum.depth % 100 != 0"}],
         "mark": {"type": "rule", "color": "#d4d4d4", "strokeWidth": 2.5},
         "encoding": {"y": {"field": "depth", "type": "quantitative", "scale": {"domain": [2370.2, 2663.0], "reverse": true, "nice": false, "zero": false}, "axis": null}}},
        {"data": {"name": "depth_grid"}, "transform": [{"filter": "datum.depth % 100 == 0"}],
         "mark": {"type": "rule", "color": "#d4d4d4", "strokeWidth": 6},
         "encoding": {"y": {"field": "depth", "type": "quantitative", "scale": {"domain": [2370.2, 2663.0], "reverse": true, "nice": false, "zero": false}, "axis": null}}},
        {"data": {"name": "track_grid"},
         "mark": {"type": "rule", "color": "#d4d4d4", "strokeWidth": 2.5},
         "encoding": {"x": {"field": "vcl", "type": "quantitative", "scale": {"domain": [0, 1], "nice": false, "zero": false}, "axis": null}}},
        {"data": {"name": "gr_log"},
         "mark": {"type": "line", "color": "#008000", "strokeWidth": 2.4, "clip": true},
         "encoding": {"x": {"field": "gr", "type": "quantitative", "scale": {"domain": [14.9, 119.6], "nice": false, "zero": false}, "axis": null},
                      "y": {"field": "depth", "type": "quantitative", "scale": {"domain": [2370.2, 2663.0], "reverse": true, "nice": false, "zero": false}, "axis": null},
                      "order": {"field": "depth", "type": "quantitative"}}},
        {"data": {"name": "sp_log"},
         "mark": {"type": "line", "color": "#0000ff", "strokeWidth": 2.6, "clip": true},
         "encoding": {"x": {"field": "sp", "type": "quantitative", "scale": {"domain": [-31.0, -5.0], "reverse": true, "nice": false, "zero": false}, "axis": null},
                      "y": {"field": "depth", "type": "quantitative", "scale": {"domain": [2370.2, 2663.0], "reverse": true, "nice": false, "zero": false}, "axis": null},
                      "order": {"field": "depth", "type": "quantitative"}}}
      ]
    }
  ]
}
